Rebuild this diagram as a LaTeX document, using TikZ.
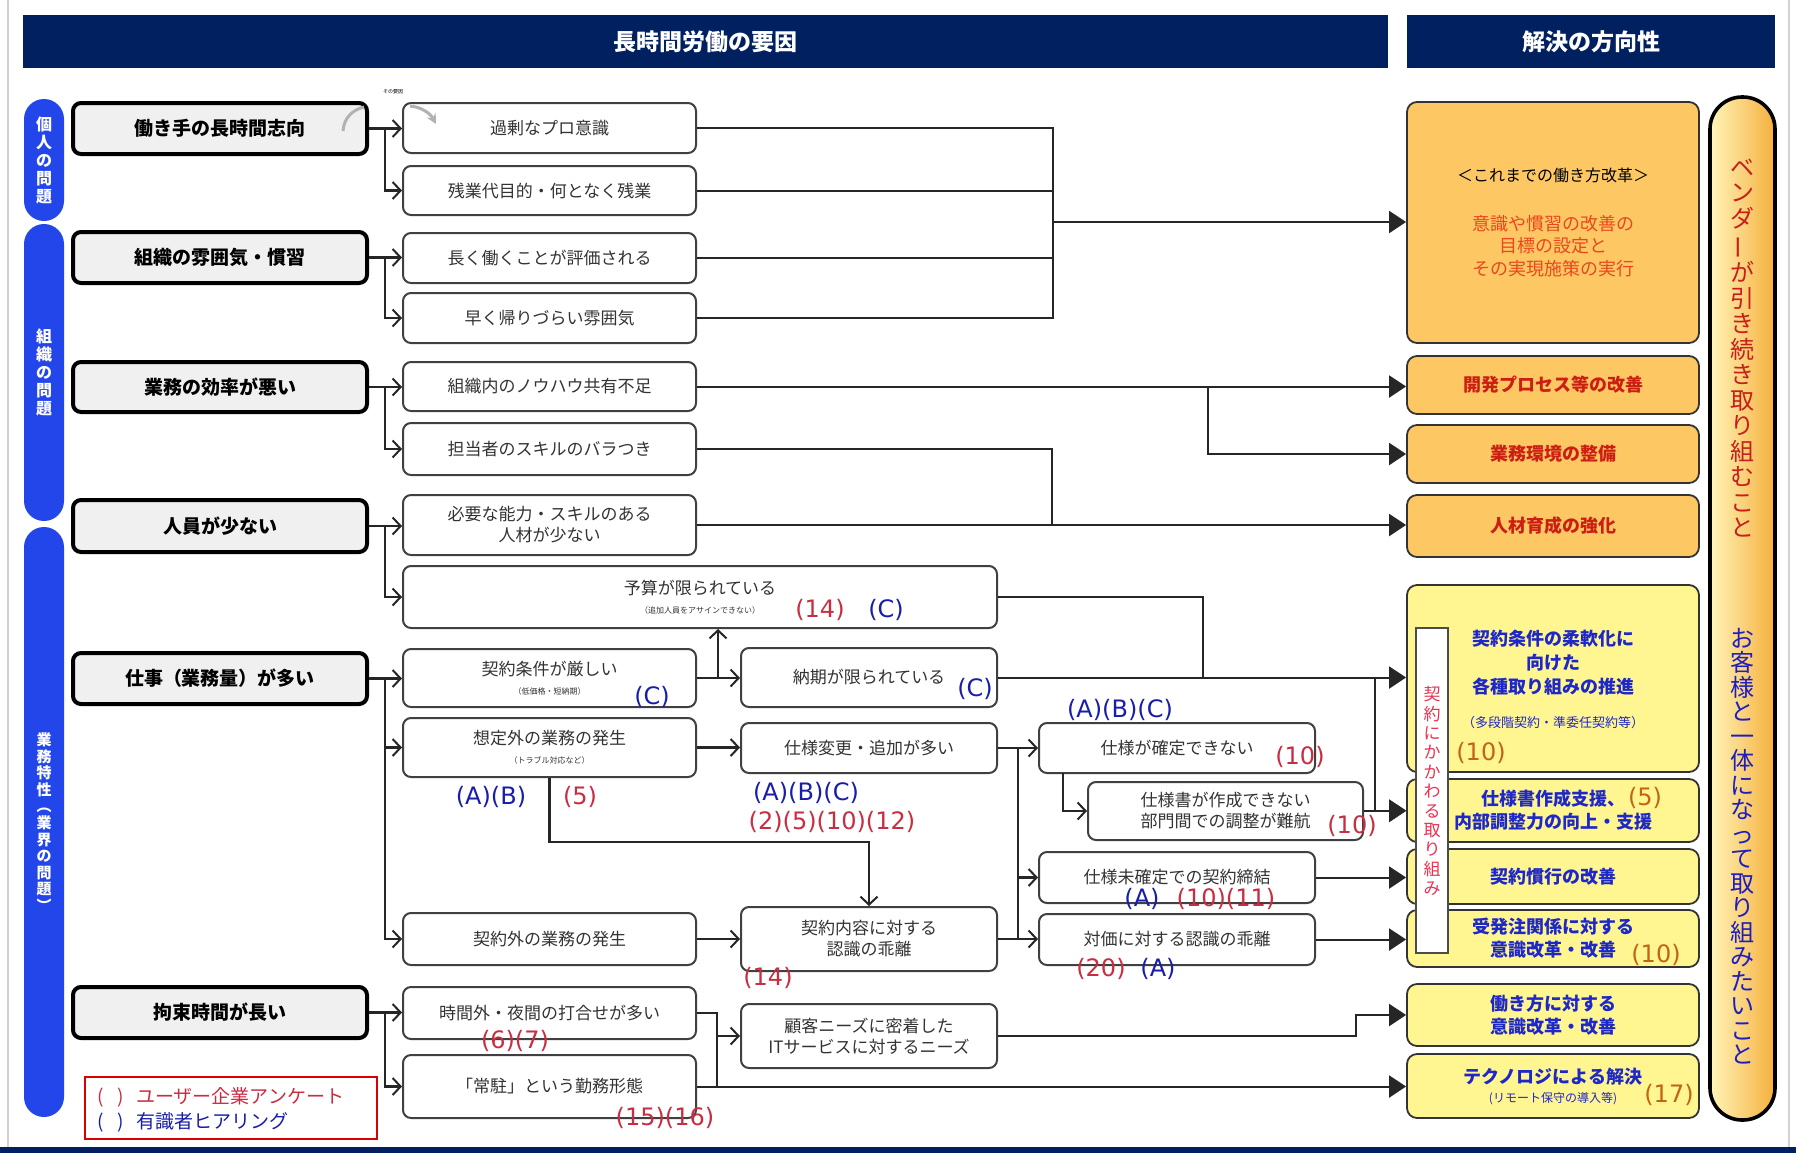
\documentclass[tikz,border=0pt]{standalone}
\usepackage{fontspec}
\usepackage{graphicx}
\setmainfont{Noto Sans CJK JP}
\newfontfamily\labf{DejaVu Sans}
\usetikzlibrary{arrows.meta,shadings}
\definecolor{navy}{RGB}{0,32,96}
\definecolor{pillblue}{RGB}{35,70,235}
\definecolor{gfill}{RGB}{240,240,240}
\definecolor{orgfill}{RGB}{253,200,100}
\definecolor{yelfill}{RGB}{255,245,145}
\definecolor{labred}{RGB}{200,45,65}
\definecolor{labblue}{RGB}{25,30,170}
\definecolor{redtxt}{RGB}{205,30,20}
\definecolor{rtred}{RGB}{235,70,30}
\definecolor{bluetxt}{RGB}{30,40,200}
\definecolor{numorg}{RGB}{195,100,20}
\definecolor{vtred}{RGB}{200,30,30}
\definecolor{vtblue}{RGB}{30,30,190}
\definecolor{kred}{RGB}{235,50,80}
\definecolor{pillL}{RGB}{255,245,185}
\definecolor{pillR}{RGB}{245,175,60}
\newcommand\mkbox[7]{\node[#2, minimum width={(#5-#3)*0.5pt}, minimum height={(#6-#4)*0.5pt}] (#1) at ({(#3+#5)/2},{(#4+#6)/2}) {#7};}
\begin{document}
\begin{tikzpicture}[x=0.5pt,y=-0.5pt,
  hdr/.style={fill=navy, inner sep=0, text=white, font=\bfseries\fontsize{11.5}{13}\selectfont},
  lpill/.style={fill=pillblue, rounded corners=10pt, inner sep=0, text=white, align=center, font=\bfseries\fontsize{8}{9}\selectfont},
  gbox/.style={draw=black, line width=2pt, fill=gfill, rounded corners=4pt, inner sep=0, align=center, font=\bfseries\fontsize{9.5}{11}\selectfont},
  mbox/.style={draw=black!75, line width=1pt, fill=white, rounded corners=4pt, inner sep=0, align=center, text=black!80, font=\fontsize{8.5}{10.5}\selectfont},
  obox/.style={draw=black!80, line width=0.9pt, fill=orgfill, rounded corners=5pt, inner sep=0, align=center, text=redtxt, font=\bfseries\fontsize{9}{11.5}\selectfont},
  ybox/.style={draw=black!80, line width=0.9pt, fill=yelfill, rounded corners=5pt, inner sep=0, align=center, text=bluetxt, font=\bfseries\fontsize{9}{11.5}\selectfont},
  lc/.style={draw=black!85, line width=1.2pt},
  lca/.style={lc, -{Straight Barb[length=4pt,width=8.5pt,line width=1pt]}},
  rl/.style={draw=black!85, line width=1pt},
  ra/.style={rl, -{Triangle[length=8.5pt,width=11pt]}},
  lab/.style={inner sep=0, font=\labf\fontsize{12}{14}\selectfont},
  lr/.style={lab, text=labred},
  lb/.style={lab, text=labblue},
  ln/.style={lab, text=numorg}]
\useasboundingbox (0,0) rectangle (1796,1153);
\fill[white] (0,0) rectangle (1796,1153);
\draw[gray!35, line width=1pt] (8,0) -- (8,1147);
\draw[gray!35, line width=1pt] (1789,0) -- (1789,1147);
\fill[navy] (0,1147) rectangle (1796,1153);

% headers
\mkbox{h1}{hdr}{23}{15}{1388}{68}{長時間労働の要因}
\mkbox{h2}{hdr}{1407}{15}{1775}{68}{解決の方向性}

% left pills
\mkbox{p1}{lpill}{24}{99}{64}{221}{個\\人\\の\\問\\題}
\mkbox{p2}{lpill}{24}{224}{64}{521}{組\\織\\の\\問\\題}
\mkbox{p3}{lpill, font=\bfseries\fontsize{7.5}{8.3}\selectfont}{24}{527}{64}{1117}{業\\務\\特\\性\\︵\\業\\界\\の\\問\\題\\︶}

% gray boxes
\mkbox{g1}{gbox}{73}{103}{367}{154}{働き手の長時間志向}
\mkbox{g2}{gbox}{73}{232}{367}{283}{組織の雰囲気・慣習}
\mkbox{g3}{gbox}{73}{362}{367}{412}{業務の効率が悪い}
\mkbox{g4}{gbox}{73}{500}{367}{552}{人員が少ない}
\mkbox{g5}{gbox}{73}{653}{367}{704}{仕事（業務量）が多い}
\mkbox{g6}{gbox}{73}{987}{367}{1038}{拘束時間が長い}

% middle column A
\mkbox{m1}{mbox}{403}{103}{696}{153}{過剰なプロ意識}
\mkbox{m2}{mbox}{403}{166}{696}{215}{残業代目的・何となく残業}
\mkbox{m3}{mbox}{403}{233}{696}{283}{長く働くことが評価される}
\mkbox{m4}{mbox}{403}{293}{696}{343}{早く帰りづらい雰囲気}
\mkbox{m5}{mbox}{403}{362}{696}{411}{組織内のノウハウ共有不足}
\mkbox{m6}{mbox}{403}{423}{696}{475}{担当者のスキルのバラつき}
\mkbox{m7}{mbox}{403}{495}{696}{555}{必要な能力・スキルのある\\人材が少ない}
\mkbox{m8}{mbox}{403}{566}{997}{628}{予算が限られている\\[-1pt]{\fontsize{4}{5}\selectfont （追加人員をアサインできない）}}
\mkbox{m9}{mbox}{403}{649}{696}{707}{契約条件が厳しい\\[-1pt]{\fontsize{4}{5}\selectfont （低価格・短納期）}}
\mkbox{m10}{mbox}{403}{718}{696}{777}{想定外の業務の発生\\[-1pt]{\fontsize{4}{5}\selectfont （トラブル対応など）}}
\mkbox{m11}{mbox}{403}{913}{696}{965}{契約外の業務の発生}
\mkbox{m12}{mbox}{403}{987}{696}{1039}{時間外・夜間の打合せが多い}
\mkbox{m13}{mbox}{403}{1055}{696}{1118}{「常駐」という勤務形態}

% middle column B
\mkbox{n1}{mbox}{741}{648}{997}{707}{納期が限られている}
\mkbox{n2}{mbox}{741}{723}{997}{773}{仕様変更・追加が多い}
\mkbox{n3}{mbox}{741}{907}{997}{971}{契約内容に対する\\認識の乖離}
\mkbox{n4}{mbox}{741}{1004}{997}{1068}{顧客ニーズに密着した\\ITサービスに対するニーズ}

% column C
\mkbox{c1}{mbox}{1039}{723}{1315}{773}{仕様が確定できない}
\mkbox{c2}{mbox}{1088}{782}{1363}{840}{仕様書が作成できない\\部門間での調整が難航}
\mkbox{c3}{mbox}{1039}{852}{1315}{903}{仕様未確定での契約締結}
\mkbox{c4}{mbox}{1039}{914}{1315}{965}{対価に対する認識の乖離}

% right column
\mkbox{r1}{obox}{1407}{102}{1699}{343}{}
\node[font=\fontsize{8}{10}\selectfont, text=black] (r1t) at (1553,175) {＜これまでの働き方改革＞};
\node[font=\fontsize{9}{11.25}\selectfont, text=rtred, align=center] (r1b) at (1553,246) {意識や慣習の改善の\\目標の設定と\\その実現施策の実行};
\mkbox{r2}{obox}{1407}{356}{1699}{414}{開発プロセス等の改善}
\mkbox{r3}{obox}{1407}{425}{1699}{483}{業務環境の整備}
\mkbox{r4}{obox}{1407}{495}{1699}{557}{人材育成の強化}
\mkbox{r5}{ybox}{1407}{585}{1699}{772}{}
\node[font=\bfseries\fontsize{9}{12}\selectfont, text=bluetxt, align=center] (r5a) at (1553,663) {契約条件の柔軟化に\\向けた\\各種取り組みの推進};
\node[font=\fontsize{6.5}{8}\selectfont, text=bluetxt] (r5b) at (1553,723) {（多段階契約・準委任契約等）};
\mkbox{r6}{ybox}{1407}{779}{1699}{842}{仕様書作成支援、\\内部調整力の向上・支援}
\mkbox{r7}{ybox}{1407}{849}{1699}{904}{契約慣行の改善}
\mkbox{r8}{ybox}{1407}{910}{1699}{967}{受発注関係に対する\\意識改革・改善}
\mkbox{r9}{ybox}{1407}{984}{1699}{1046}{働き方に対する\\意識改革・改善}
\mkbox{r10}{ybox}{1407}{1054}{1699}{1118}{テクノロジによる解決\\[-2pt]{\mdseries\fontsize{6}{7}\selectfont (リモート保守の導入等)}}
\mkbox{wk}{draw=black!70, line width=0.7pt, fill=white, inner sep=0}{1416}{628}{1448}{953}{}
\node[font=\fontsize{8.5}{9.7}\selectfont, text=kred, align=center] (wkt) at (1432,791) {契\\約\\に\\か\\か\\わ\\る\\取\\り\\組\\み};

% right pill
\mkbox{rp}{draw=black, line width=1.8pt, rounded corners=16pt, left color=pillL, right color=pillR, inner sep=0}{1710}{97}{1775}{1120}{}
\node[font=\fontsize{12}{12.75}\selectfont, text=vtred, align=center] (vt1) at (1742,348) {ベ\\ン\\ダ\\\rotatebox[origin=c]{90}{ー}\\が\\引\\き\\続\\き\\取\\り\\組\\む\\こ\\と};
\node[font=\fontsize{12}{12.25}\selectfont, text=vtblue, align=center] (vt2) at (1742,846) {お\\客\\様\\と\\一\\体\\に\\な\\っ\\て\\取\\り\\組\\み\\た\\い\\こ\\と};

% legend
\mkbox{leg}{draw=red!85!black, line width=0.6pt, inner sep=0}{85}{1077}{377}{1139}{}
\node[anchor=west, inner sep=0, font=\fontsize{9.5}{11}\selectfont, text=labred] (leg1) at (97,1097) {(\hspace{7pt})\hspace{6pt}ユーザー企業アンケート};
\node[anchor=west, inner sep=0, font=\fontsize{9.5}{11}\selectfont, text=labblue] (leg2) at (97,1122) {(\hspace{7pt})\hspace{6pt}有識者ヒアリング};

% small curved marks
\node[inner sep=0, font=\fontsize{2.5}{3}\selectfont] (sy) at (393,92) {その要因};
\draw[gray!60, line width=1.5pt] (343,131) .. controls (344,118) and (352,110) .. (364,107);
\draw[gray!60, line width=1.5pt, -{Stealth[length=5pt,width=5pt]}] (410,106) .. controls (421,107) and (430,113) .. (436,124);

% left connectors
\draw[lca] (g1.east) -- (g1.east -| m1.west);
\draw[lca] (g1.east) -- ++(16,0) |- (m2.west);
\draw[lca] (g2.east) -- (g2.east -| m3.west);
\draw[lca] (g2.east) -- ++(16,0) |- (m4.west);
\draw[lca] (g3.east) -- (g3.east -| m5.west);
\draw[lca] (g3.east) -- ++(16,0) |- (m6.west);
\draw[lca] (g4.east) -- (g4.east -| m7.west);
\draw[lca] (g4.east) -- ++(16,0) |- (m8.west);
\draw[lca] (g5.east) -- (g5.east -| m9.west);
\draw[lca] (g5.east) -- ++(16,0) |- (m10.west);
\draw[lca] (g5.east) -- ++(16,0) |- (m11.west);
\draw[lca] (g6.east) -- (g6.east -| m12.west);
\draw[lca] (g6.east) -- ++(16,0) |- (m13.west);

% middle connectors
\draw[lca] (m9.east) -- (m9.east -| n1.west);
\coordinate (k1) at (718,678);
\draw[lca] (k1) -- (k1 |- m8.south);
\draw[lca] (m10.east) -- (m10.east -| n2.west);
\coordinate (k2) at (869,842);
\draw[lca] (m10.south) |- (k2) -- (k2 |- n3.north);
\draw[lca] (m11.east) -- (m11.east -| n3.west);
\coordinate (k3) at (1018,748);
\draw[lca] (n2.east) -- (n2.east -| c1.west);
\draw[lc] (k3) -- (k3 |- c4.west);
\draw[lca] (k3) |- (c3.west);
\draw[lca] (n3.east) -- (n3.east -| c4.west);
\coordinate (k4) at (1063,773);
\draw[lca] (k4) |- (c2.west);
\coordinate (k5) at (717,1013);
\draw[lc] (m12.east) -- (k5) -- (k5 |- m13.east);
\draw[lca] (k5 |- n4.west) -- (n4.west);

% right connectors
\coordinate (j1) at (1053,222);
\draw[rl] (m1.east) -| (j1);
\draw[rl] (m4.east) -| (j1);
\draw[rl] (m2.east) -- (m2.east -| j1);
\draw[rl] (m3.east) -- (m3.east -| j1);
\draw[ra] (j1) -- (j1 -| r1.west);
\draw[ra] (m5.east) -- (m5.east -| r2.west);
\coordinate (j2) at (1208,386.5);
\draw[ra] (j2) |- (r3.west);
\coordinate (j3) at (1052,525);
\draw[rl] (m6.east) -| (j3);
\draw[ra] (m7.east) -- (m7.east -| r4.west);
\coordinate (j4) at (1203,677.5);
\draw[rl] (m8.east) -| (j4);
\draw[ra] (n1.east) -- (n1.east -| r5.west);
\coordinate (j5) at (1375,677.5);
\draw[ra] (j5) |- (r6.west);
\draw[ra] (c2.east) -- (c2.east -| r6.west);
\draw[ra] (c3.east) -- (c3.east -| r7.west);
\draw[ra] (c4.east) -- (c4.east -| r8.west);
\coordinate (j8) at (1356,1036);
\draw[ra] (n4.east) -- (j8) |- (r9.west);
\draw[ra] (m13.east) -- (m13.east -| r10.west);

% labels
\node[lr] (a1) at (820,610) {(14)};
\node[lb] (a2) at (886,610) {(C)};
\node[lb] (a3) at (652,697) {(C)};
\node[lb] (a4) at (975,689) {(C)};
\node[lb] (a5) at (1120,710) {(A)(B)(C)};
\node[lr] (a6) at (1300,757) {(10)};
\node[lb] (a7) at (806,793) {(A)(B)(C)};
\node[lr] (a8) at (832,822) {(2)(5)(10)(12)};
\node[lr] (a9) at (1352,826) {(10)};
\node[lb] (a10) at (491,797) {(A)(B)};
\node[lr] (a11) at (580,797) {(5)};
\node[lb] (a12) at (1142,899) {(A)};
\node[lr] (a13) at (1226,899) {(10)(11)};
\node[lr] (a14) at (1101,969) {(20)};
\node[lb] (a15) at (1158,969) {(A)};
\node[lr] (a16) at (768,978) {(14)};
\node[lr] (a17) at (515,1041) {(6)(7)};
\node[lr] (a18) at (665,1118) {(15)(16)};
\node[ln] (b1) at (1481,753) {(10)};
\node[ln] (b2) at (1645,798) {(5)};
\node[ln] (b3) at (1656,955) {(10)};
\node[ln] (b4) at (1669,1095) {(17)};
\end{tikzpicture}
\end{document}
